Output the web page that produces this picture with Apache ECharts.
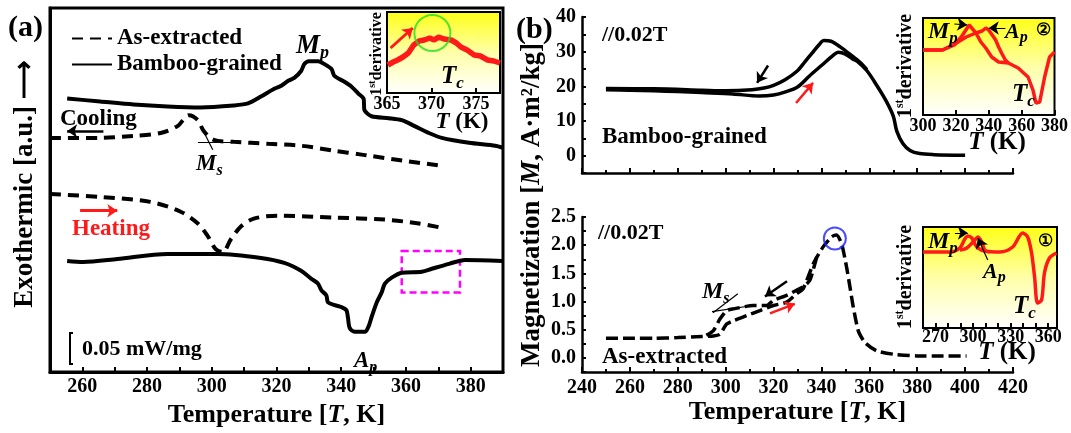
<!DOCTYPE html>
<html>
<head>
<meta charset="utf-8">
<script src="https://cdn.jsdelivr.net/npm/echarts@6/dist/echarts.min.js"></script>
<style>
  html, body { margin: 0; padding: 0; background: #fff; }
  #chart { width: 1071px; height: 433px; }
</style>
</head>
<body>
<div id="chart"></div>
<script>
// ---------- data ----------
// (a) DSC curves, arbitrary units
const dscBambooCoolT = [255.3, 265.5, 275.8, 286.3, 296.6, 306.8, 311.2, 315.2, 319.3, 321.5, 323.6, 325.5, 327.6, 328.6, 330, 332.9, 334.8, 337, 337.9, 341, 343.2, 345.3, 346.9, 347.2, 349.4, 354.7, 358.7, 362.7, 367.1, 371.1, 379.5, 387.6, 390];
const dscBambooCoolY = [27.8, 27.5, 27.2, 27.0, 26.9, 27.1, 27.3, 28.0, 28.8, 29.1, 29.6, 29.9, 30.6, 31.3, 31.6, 31.6, 31.3, 30.8, 30.1, 29.5, 29.0, 28.3, 27.8, 26.6, 26.0, 25.8, 25.6, 25.0, 24.3, 23.8, 23.3, 23.0, 22.8];
const dscAsCoolT = [250, 265.5, 275.8, 284.2, 289.4, 292.9, 295.7, 297.5, 300.6, 306.8, 317.4, 327.6, 337.9, 346.3, 348.4, 359, 370.2];
const dscAsCoolY = [23.8, 23.8, 24.0, 24.3, 25.0, 26.1, 25.6, 24.5, 23.6, 23.4, 23.2, 23.0, 22.5, 22.1, 22.0, 21.5, 21.0];
const dscAsHeatT = [250, 265.5, 281, 290.4, 295.7, 298.8, 301.2, 303.4, 305.9, 309, 313, 320.5, 337.9, 353.4, 364, 372];
const dscAsHeatY = [18.1, 17.8, 17.3, 16.3, 15.1, 13.8, 12.5, 12.2, 13.5, 14.8, 15.6, 15.9, 15.7, 15.5, 15.1, 14.6];
const dscBambooHeatT = [255.3, 260.2, 270.8, 286.3, 301.9, 315.2, 322.4, 327.6, 330.7, 332.8, 333.9, 335.4, 335.9, 338, 340.1, 341.6, 342.1, 342.6, 344.2, 347.3, 348.4, 349.4, 351, 352.5, 353.5, 355.6, 358.7, 364.9, 368, 373.3, 378.3, 389.8];
const dscBambooHeatY = [11.3, 11.2, 11.5, 12.0, 12.0, 11.6, 11.1, 10.3, 9.5, 9.0, 8.3, 7.8, 7.1, 6.8, 6.6, 6.3, 5.5, 4.5, 4.1, 4.1, 4.6, 5.6, 7.1, 8.1, 9.0, 9.6, 10.1, 10.2, 10.5, 11.0, 11.4, 11.3];
const boxT = [358.7, 376.7];
const boxY = [8.1, 12.3];

// (a) inset: 1st derivative near Tc
const insetAT = [365.1, 365.7, 366.2, 366.8, 367.4, 368, 368.6, 369.2, 369.8, 370.3, 370.8, 371.4, 372.2, 372.8, 373.3, 374, 374.8, 375.5, 376.3, 377, 377.7];
const insetAY = [28, 31, 33, 36, 40, 48, 52, 53, 55, 53, 56, 54, 53, 50, 46, 43, 38, 37, 33, 32, 30];

// (b) top: bamboo-grained M(T), A·m²/kg
const magHeatT = [250, 260, 270, 280, 290, 303, 314, 320, 325, 330, 335, 340, 345, 347, 350, 353, 355, 359, 363, 367, 370, 371.5, 374, 377, 381, 387, 400];
const magHeatY = [19.0, 18.9, 18.7, 18.5, 18.2, 17.8, 17.2, 17.5, 18.4, 19.8, 23.0, 26.0, 29.0, 29.8, 29.3, 27.9, 27.2, 24.5, 20.4, 15.8, 11.4, 7.0, 3.5, 1.5, 0.6, 0.3, 0.1];
const magCoolT = [359, 356, 352, 348, 344, 341, 339, 336, 333, 330, 325, 320, 316, 311, 300, 290, 270, 250];
const magCoolY = [24.8, 27.0, 29.2, 31.3, 33.0, 33.2, 32.0, 29.5, 27.0, 24.5, 22.0, 20.3, 19.5, 19.0, 18.7, 18.9, 19.3, 19.4];

// (b) bottom: as-extracted M(T)
const magAsHeatT = [250, 260, 270, 280, 290, 294.8, 297.6, 300.4, 303.2, 308.8, 314.3, 319.9, 325.5, 329.6, 332.4, 336.6, 340.7, 344.3, 346.3, 348.4, 350.5, 351.9, 353.3, 355.4, 358.2, 363, 370, 379.7, 390, 400.6];
const magAsHeatY = [0.35, 0.35, 0.35, 0.36, 0.38, 0.39, 0.42, 0.60, 0.66, 0.75, 0.84, 0.93, 0.99, 1.14, 1.23, 1.67, 1.97, 2.15, 2.18, 2.03, 1.61, 1.26, 0.90, 0.48, 0.27, 0.125, 0.066, 0.036, 0.036, 0.036];
const magAsCoolT = [338, 335.2, 332.4, 329.6, 325.5, 319.9, 317.1, 311.5, 303.2, 300.4, 297.6, 294.8, 291];
const magAsCoolY = [1.79, 1.38, 1.26, 1.20, 1.11, 1.02, 0.93, 0.93, 0.87, 0.84, 0.69, 0.48, 0.38];

// (b) insets: 1st derivative, a.u.
const deriv2CoolT = [300, 311.9, 319.1, 323.3, 328.1, 332.2, 335.2, 338.2, 341.8, 346, 351.9, 357.9, 363.9, 366.9, 368.7, 371, 374, 377, 380];
const deriv2CoolY = [65, 65, 70, 78, 90, 82, 73, 67, 58, 53, 52, 47, 38, 25, 12, 13, 38, 58, 63];
const deriv2HeatT = [300, 311.9, 320.3, 326.3, 332.2, 336, 338.2, 340, 344.2, 346, 347.8, 350.1, 351.9];
const deriv2HeatY = [65, 65, 72, 78, 82, 84, 87, 85, 75, 68, 62, 55, 52];
const deriv1CoolT = [260, 281.5, 289.4, 293.4, 295.8, 299, 301.4, 303.8, 309.3, 321.3, 331.6, 339.6, 343.6, 346.7, 349.1, 351.5, 354.7, 357, 361, 366.6];
const deriv1CoolY = [76, 76, 80, 89, 92, 90, 84, 80, 77, 76, 81, 95, 91, 75, 51, 25, 28, 55, 70, 75];
const deriv1HeatT = [289.4, 295, 301.4, 303.8, 306.9, 309.3, 313.3];
const deriv1HeatY = [78, 80, 88, 91, 86, 78, 76];

// annotation anchors (data coordinates)
const coolArrowA = [[266.5, 24.5], [255.3, 24.5]];
const heatArrowA = [[259.3, 16.4], [270.8, 16.4]];
const msTickA = [[[295.7, 23.4], [305.9, 23.4]], [[296.6, 25.0], [300.3, 22.6]]];
const insetArrowA = [[365.4, 45], [367.9, 65]];
const tcCircleA = [[370.1, 60]];
const coolArrowB = [[317.7, 26], [313.1, 21]];
const heatArrowB = [[329.4, 15.2], [336.5, 21]];
const coolArrowB2 = [[325.6, 1.36], [316.4, 1.09]];
const heatArrowB2 = [[318.5, 0.79], [328.9, 0.96]];
const msTickB = [[[294.7, 0.80], [305.1, 1.14]], [[294.3, 0.82], [311.4, 0.93]]];
const peakCircleB = [[345.6, 2.12]];
const mpArrow2 = [[319.1, 91], [326.9, 90]];
const apArrow2 = [[350.1, 87], [340, 87]];
const mpArrow1 = [[285.5, 95], [295.8, 95]];
const apArrow1 = [[311.7, 68], [303.8, 90]];

// ---------- helpers ----------
const FONT = '"Liberation Serif", "Times New Roman", serif';
const RED = '#ff1a1a';
const zip = (xs, ys) => xs.map((x, i) => [x, ys[i]]);
const rs = (size, italic, extra) => Object.assign({
  fontSize: size, fontWeight: 'bold', fontStyle: italic ? 'italic' : 'normal',
  fontFamily: FONT, color: '#000'
}, extra || {});

function curve(name, xs, ys, gi, color, width, dash, smooth) {
  return {
    type: 'line', name, xAxisIndex: gi, yAxisIndex: gi,
    data: zip(xs, ys), symbol: 'none', showSymbol: false, z: 3,
    smooth: smooth || false,
    lineStyle: { color, width, type: dash || 'solid', cap: 'butt' },
    itemStyle: { color }
  };
}

function seg(coords, gi, color, width, head) {
  return {
    type: 'lines', coordinateSystem: 'cartesian2d', xAxisIndex: gi, yAxisIndex: gi,
    symbol: head ? ['none', 'arrow'] : 'none', symbolSize: 10, silent: true, z: 6,
    lineStyle: { color, width, opacity: 1 },
    data: [{ coords }]
  };
}

function ring(pt, gi, color, size) {
  return {
    type: 'scatter', xAxisIndex: gi, yAxisIndex: gi, data: pt, symbol: 'circle',
    symbolSize: size, silent: true, z: 6,
    itemStyle: { color: 'rgba(0,0,0,0)', borderColor: color, borderWidth: 2 }
  };
}

function txt(x, y, text, rich, o) {
  o = o || {};
  return {
    type: 'text', x, y, rotation: o.rot || 0, z: 100, silent: true,
    style: { text, rich, align: o.align || 'left', verticalAlign: 'middle',
      fill: o.color || '#000', font: `bold ${o.size || 22}px ${FONT}` }
  };
}

const subRich = (big, small, color) => ({
  i: rs(big, true, { lineHeight: big + 6, color: color || '#000' }),
  s: rs(small, true, { verticalAlign: 'bottom', color: color || '#000' })
});
const derivRich = (size) => ({
  b: rs(size, false, { lineHeight: size + 4 }),
  u: rs(Math.round(size * 0.6), false, { verticalAlign: 'top' })
});
const insetBg = {
  type: 'linear', x: 0, y: 0, x2: 0, y2: 1,
  colorStops: [{ offset: 0, color: '#ffff14' }, { offset: 0.5, color: '#ffffa8' }, { offset: 1, color: '#ffffff' }]
};

function xAx(gi, min, max, interval, show, labelSize, margin, extra) {
  return Object.assign({
    type: 'value', gridIndex: gi, min, max, interval,
    axisLine: { onZero: false, lineStyle: { color: '#000', width: gi === 0 ? 3 : 2.5 } },
    axisTick: { inside: true, length: 5, lineStyle: { color: '#000', width: 2 } },
    axisLabel: { show: show !== false, margin, color: '#000', fontFamily: FONT, fontWeight: 'bold', fontSize: labelSize },
    splitLine: { show: false }
  }, extra || {});
}

function yAx(gi, min, max, extra) {
  return Object.assign({
    type: 'value', gridIndex: gi, min, max,
    axisLine: { onZero: false, show: true, lineStyle: { color: '#000', width: 2.5 } },
    axisTick: { show: false }, axisLabel: { show: false }, splitLine: { show: false }
  }, extra || {});
}

const nameRich = { b: rs(26, false, { lineHeight: 26 }), i: rs(26, true, { lineHeight: 26 }) };

const chart = echarts.init(document.getElementById('chart'), null, { renderer: 'canvas' });

const option = {
  animation: false,
  backgroundColor: '#fff',
  grid: [
    { left: 50, top: 8, width: 453, height: 370, show: true, borderColor: '#000', borderWidth: 3, backgroundColor: 'transparent' },
    { left: 387, top: 12, width: 113, height: 81, show: true, borderColor: '#000', borderWidth: 2, backgroundColor: insetBg },
    { left: 582, top: 17, width: 431, height: 156 },
    { left: 582, top: 217, width: 431, height: 155 },
    { left: 923, top: 18, width: 134, height: 97, show: true, borderColor: '#000', borderWidth: 2, backgroundColor: insetBg },
    { left: 923, top: 227, width: 134, height: 101, show: true, borderColor: '#000', borderWidth: 2, backgroundColor: insetBg }
  ],
  xAxis: [
    xAx(0, 250, 390, 10, true, 20, 5, {
      axisLabel: { margin: 5, color: '#000', fontFamily: FONT, fontWeight: 'bold', fontSize: 20,
        formatter: (v) => (v % 20 === 0 ? String(v) : '') },
      name: '{b|Temperature [}{i|T}{b|, K]}', nameLocation: 'middle', nameGap: 21,
      nameTextStyle: { rich: nameRich }
    }),
    xAx(1, 365, 377.7, 5, true, 18, 2, {
      axisLine: { onZero: false, lineStyle: { color: '#000', width: 2 } },
      axisLabel: { margin: 2, color: '#000', fontFamily: FONT, fontWeight: 'bold', fontSize: 18,
        showMaxLabel: false, formatter: (v) => (v % 5 === 0 ? String(v) : '') }
    }),
    xAx(2, 240, 420, 20, false, 20, 6, { minorTick: { show: true, splitNumber: 2, length: 3, lineStyle: { color: '#000', width: 2 } } }),
    xAx(3, 240, 420, 20, true, 20, 6, {
      minorTick: { show: true, splitNumber: 2, length: 3, lineStyle: { color: '#000', width: 2 } },
      name: '{b|Temperature [}{i|T}{b|, K]}', nameLocation: 'middle', nameGap: 25,
      nameTextStyle: { rich: nameRich }
    }),
    xAx(4, 300, 380, 20, true, 18, 2, { axisLine: { onZero: false, lineStyle: { color: '#000', width: 2 } } }),
    xAx(5, 260, 367, 10, true, 18, 0, {
      axisLine: { onZero: false, lineStyle: { color: '#000', width: 2 } },
      axisLabel: { margin: 0, color: '#000', fontFamily: FONT, fontWeight: 'bold', fontSize: 18,
        showMinLabel: false, showMaxLabel: false,
        formatter: (v) => ((v - 270) % 30 === 0 ? String(v) : '') }
    })
  ],
  yAxis: [
    yAx(0, 0, 37, { axisLine: { onZero: false, lineStyle: { color: '#000', width: 3 } } }),
    yAx(1, 0, 81, { axisLine: { show: true, lineStyle: { color: '#000', width: 2 } } }),
    yAx(2, -5, 40, {
      interval: 5,
      axisTick: { show: true, inside: true, length: 4, lineStyle: { color: '#000', width: 2 } },
      axisLabel: { show: true, margin: 6, color: '#000', fontFamily: FONT, fontWeight: 'bold', fontSize: 20,
        formatter: (v) => (v >= 0 && v % 10 === 0 ? String(v) : '') }
    }),
    yAx(3, -0.25, 2.5, {
      interval: 0.25,
      axisTick: { show: true, inside: true, length: 4, lineStyle: { color: '#000', width: 2 } },
      axisLabel: { show: true, margin: 6, color: '#000', fontFamily: FONT, fontWeight: 'bold', fontSize: 20,
        formatter: (v) => (v >= 0 && Math.abs(v * 2 - Math.round(v * 2)) < 1e-6 ? v.toFixed(1) : '') }
    }),
    yAx(4, 0, 97, { axisLine: { show: true, lineStyle: { color: '#000', width: 2 } } }),
    yAx(5, 0, 101, { axisLine: { show: true, lineStyle: { color: '#000', width: 2 } } })
  ],
  legend: {
    data: ['As-extracted', 'Bamboo-grained'], orient: 'vertical', left: 66, top: 22,
    itemWidth: 40, itemHeight: 12, itemGap: 3,
    itemStyle: { opacity: 0 },
    textStyle: { fontFamily: FONT, fontWeight: 'bold', fontSize: 23, color: '#000' }
  },
  series: [
    // (a)
    curve('Bamboo-grained', dscBambooCoolT, dscBambooCoolY, 0, '#000', 4, null, 0.25),
    Object.assign(curve('Bamboo-grained', dscBambooHeatT, dscBambooHeatY, 0, '#000', 4, null, 0.3), {
      markArea: {
        silent: true,
        itemStyle: { color: 'rgba(0,0,0,0)', borderColor: '#ff00ff', borderWidth: 2.5, borderType: [7, 4] },
        data: [[{ coord: [boxT[0], boxY[1]] }, { coord: [boxT[1], boxY[0]] }]]
      }
    }),
    curve('As-extracted', dscAsCoolT, dscAsCoolY, 0, '#000', 4, [11, 7], 0.3),
    curve('As-extracted', dscAsHeatT, dscAsHeatY, 0, '#000', 4, [11, 7], 0.3),
    seg(coolArrowA, 0, '#000', 2.5, true),
    seg(heatArrowA, 0, RED, 3, true),
    seg(msTickA[0], 0, '#000', 1.2, false),
    seg(msTickA[1], 0, '#000', 1.2, false),
    // (a) inset
    curve('insetA', insetAT, insetAY, 1, RED, 5.5),
    seg(insetArrowA, 1, RED, 3, true),
    ring(tcCircleA, 1, '#22dd22', 36),
    // (b) top
    curve('magHeat', magHeatT, magHeatY, 2, '#000', 3.5, null, 0.3),
    curve('magCool', magCoolT, magCoolY, 2, '#000', 3.5, null, 0.3),
    seg(coolArrowB, 2, '#000', 2.5, true),
    seg(heatArrowB, 2, RED, 2.5, true),
    // (b) bottom
    curve('magAsHeat', magAsHeatT, magAsHeatY, 3, '#000', 3.5, [12, 5], 0.2),
    curve('magAsCool', magAsCoolT, magAsCoolY, 3, '#000', 3.5, [12, 5], 0.2),
    seg(coolArrowB2, 3, '#000', 2.5, true),
    seg(heatArrowB2, 3, RED, 2.5, true),
    seg(msTickB[0], 3, '#000', 1.2, false),
    seg(msTickB[1], 3, '#000', 1.2, false),
    ring(peakCircleB, 3, '#1f1fff', 22),
    // (b) insets
    curve('d2c', deriv2CoolT, deriv2CoolY, 4, RED, 3.5),
    curve('d2h', deriv2HeatT, deriv2HeatY, 4, RED, 3.5),
    seg(mpArrow2, 4, '#000', 1.2, true),
    seg(apArrow2, 4, '#000', 1.2, true),
    curve('d1c', deriv1CoolT, deriv1CoolY, 5, RED, 3.5, null, 0.3),
    curve('d1h', deriv1HeatT, deriv1HeatY, 5, RED, 3.5, null, 0.3),
    seg(mpArrow1, 5, '#000', 1.2, true),
    seg(apArrow1, 5, '#000', 1.2, true)
  ],
  graphic: [
    txt(8, 28, '(a)', null, { size: 30 }),
    txt(516, 30, '(b)', null, { size: 30 }),
    txt(25, 184, 'Exothermic [a.u.] \u27f6', null, { size: 27, align: 'center', rot: Math.PI / 2 }),
    txt(532, 205, '{b|Magnetization [}{i|M}{b|, A\u00b7m\u00b2/kg]}',
      { b: rs(27, false), i: rs(27, true) }, { align: 'center', rot: Math.PI / 2 }),
    // (a) annotations
    txt(296, 46, '{i|M}{s|p}', subRich(27, 18), {}),
    txt(60, 119, 'Cooling', null, { size: 23 }),
    txt(72, 229, 'Heating', null, { size: 23, color: RED }),
    txt(196, 164, '{i|M}{s|s}', subRich(23, 16), {}),
    txt(354, 361, '{i|A}{s|p}', subRich(23, 16), {}),
    txt(82, 349, '0.05 mW/mg', null, { size: 22 }),
    { type: 'polyline', z: 100, silent: true,
      shape: { points: [[73, 333], [70, 333], [70, 364], [73, 364]] },
      style: { stroke: '#000', lineWidth: 2, fill: null } },
    // (a) inset
    txt(441, 77, '{i|T}{s|c}', subRich(25, 17), {}),
    txt(462, 122, '{i|T}{b| (K)}', { i: rs(23, true), b: rs(23, false) }, { align: 'center' }),
    txt(377, 54, '{b|1}{u|st}{b|derivative}', derivRich(16), { align: 'center', rot: Math.PI / 2 }),
    // (b) main
    txt(602, 35, '//0.02T', null, { size: 22 }),
    txt(602, 137, 'Bamboo-grained', null, { size: 23 }),
    txt(598, 233, '//0.02T', null, { size: 22 }),
    txt(602, 357, 'As-extracted', null, { size: 23 }),
    txt(702, 292, '{i|M}{s|s}', subRich(24, 16), {}),
    // (b) inset top
    txt(906, 66, '{b|1}{u|st}{b|derivative}', derivRich(20), { align: 'center', rot: Math.PI / 2 }),
    txt(997, 143, '{i|T}{b| (K)}', { i: rs(25, true), b: rs(25, false) }, { align: 'center' }),
    txt(928, 32, '{i|M}{s|p}', subRich(24, 17), {}),
    txt(1005, 32, '{i|A}{s|p}', subRich(22, 16), {}),
    txt(1043, 31, '\u2461', null, { size: 17, align: 'center' }),
    txt(1012, 95, '{i|T}{s|c}', subRich(25, 17), {}),
    // (b) inset bottom
    txt(906, 277, '{b|1}{u|st}{b|derivative}', derivRich(20), { align: 'center', rot: Math.PI / 2 }),
    txt(1007, 353, '{i|T}{b| (K)}', { i: rs(25, true), b: rs(25, false) }, { align: 'center' }),
    txt(928, 242, '{i|M}{s|p}', subRich(24, 17), {}),
    txt(983, 272, '{i|A}{s|p}', subRich(22, 16), {}),
    txt(1045, 242, '\u2460', null, { size: 17, align: 'center' }),
    txt(1013, 307, '{i|T}{s|c}', subRich(25, 17), {})
  ]
};

chart.setOption(option);
</script>
</body>
</html>
